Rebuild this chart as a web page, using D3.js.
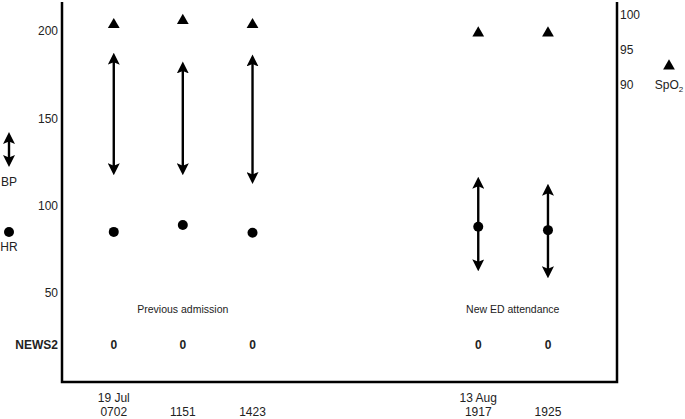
<!DOCTYPE html>
<html>
<head>
<meta charset="utf-8">
<script src="https://cdn.jsdelivr.net/npm/d3@7"></script>
<style>
body { margin: 0; background: #fff; }
text { font-family: "Liberation Sans", Arial, sans-serif; fill: #222; }
</style>
</head>
<body>
<svg width="685" height="419"></svg>
<script>
// observation times (slot = position along the x axis, with a gap between visits)
var dates = ["19 Jul", "", "", "13 Aug", ""];
var times = ["0702", "1151", "1423", "1917", "1925"];
var slots = [0.75, 1.75, 2.76, 6.03, 7.04];

var bpSys = [187, 182, 186, 116, 112];
var bpDia = [118, 118, 113, 63, 59];
var hr = [85, 89, 84.5, 88, 86];
var spo2 = [98.6, 99.2, 98.6, 97.4, 97.4];
var news2 = [0, 0, 0, 0, 0];

var leftTicks = [50, 100, 150, 200];
var rightTicks = [90, 95, 100];
var groups = [
  { label: "Previous admission", slot: 1.75 },
  { label: "New ED attendance", slot: 6.53 }
];

var svg = d3.select("svg");
var plotL = 62, plotR = 617, plotT = 2, plotB = 382;

var x = d3.scaleLinear().domain([0, 8.04]).range([plotL, plotR]);
var y = d3.scaleLinear().domain([0, 200]).range([380.4, 31]);
var y2 = d3.scaleLinear().domain([90, 100]).range([84.3, 15]);

// frame: left, bottom, right
svg.append("path")
  .attr("d", "M" + plotL + "," + plotT + "V" + plotB + "H" + plotR + "V" + plotT)
  .attr("fill", "none")
  .attr("stroke", "#000")
  .attr("stroke-width", 2.5);

// left axis labels
svg.append("g").selectAll("text")
  .data(leftTicks).enter().append("text")
  .attr("x", plotL - 4)
  .attr("y", function (d) { return y(d); })
  .attr("dy", "0.35em")
  .attr("text-anchor", "end")
  .attr("font-size", 12)
  .text(function (d) { return d; });

// right axis labels
svg.append("g").selectAll("text")
  .data(rightTicks).enter().append("text")
  .attr("x", plotR + 3)
  .attr("y", function (d) { return y2(d); })
  .attr("dy", "0.35em")
  .attr("font-size", 12)
  .text(function (d) { return d; });

// arrowhead marker
var defs = svg.append("defs");
["start", "end"].forEach(function (k) {
  defs.append("marker")
    .attr("id", "ah-" + k)
    .attr("viewBox", "0 0 10 10")
    .attr("refX", 5).attr("refY", 5)
    .attr("markerWidth", 5).attr("markerHeight", 5)
    .attr("markerUnits", "strokeWidth")
    .attr("orient", k === "start" ? "auto-start-reverse" : "auto")
    .append("path")
    .attr("d", "M0,0L10,5L0,10L2,5Z")
    .attr("fill", "#000");
});

function arrow(g, x0, yTop, yBot) {
  g.append("line")
    .attr("x1", x0).attr("x2", x0)
    .attr("y1", yBot - 5).attr("y2", yTop + 5)
    .attr("stroke", "#000")
    .attr("stroke-width", 2.4)
    .attr("marker-start", "url(#ah-start)")
    .attr("marker-end", "url(#ah-end)");
}

var tri = d3.symbol().type(d3.symbolTriangle).size(60);

var obs = d3.range(times.length);
var g = svg.append("g");

// BP arrows
obs.forEach(function (i) { arrow(g, x(slots[i]), y(bpSys[i]), y(bpDia[i])); });

// HR dots
g.selectAll(".hr").data(obs).enter().append("circle")
  .attr("cx", function (i) { return x(slots[i]); })
  .attr("cy", function (i) { return y(hr[i]); })
  .attr("r", 5)
  .attr("fill", "#000");

// SpO2 triangles
g.selectAll(".spo2").data(obs).enter().append("path")
  .attr("d", tri)
  .attr("transform", function (i) { return "translate(" + x(slots[i]) + "," + y2(spo2[i]) + ")"; })
  .attr("fill", "#000");

// group labels
svg.selectAll(".grp").data(groups).enter().append("text")
  .attr("x", function (d) { return x(d.slot); })
  .attr("y", 313)
  .attr("text-anchor", "middle")
  .attr("font-size", 10.5)
  .text(function (d) { return d.label; });

// NEWS2 row
svg.append("text")
  .attr("x", plotL - 4).attr("y", 349)
  .attr("text-anchor", "end")
  .attr("font-size", 12).attr("font-weight", "bold")
  .text("NEWS2");
svg.selectAll(".news").data(obs).enter().append("text")
  .attr("x", function (i) { return x(slots[i]); })
  .attr("y", 349)
  .attr("text-anchor", "middle")
  .attr("font-size", 12).attr("font-weight", "bold")
  .text(function (i) { return news2[i]; });

// x labels
svg.selectAll(".dt").data(obs).enter().append("text")
  .attr("x", function (i) { return x(slots[i]); })
  .attr("y", 402)
  .attr("text-anchor", "middle")
  .attr("font-size", 12)
  .text(function (i) { return dates[i]; });
svg.selectAll(".tm").data(obs).enter().append("text")
  .attr("x", function (i) { return x(slots[i]); })
  .attr("y", 416)
  .attr("text-anchor", "middle")
  .attr("font-size", 12)
  .text(function (i) { return times[i]; });

// legend: BP, HR on left, SpO2 on right
var lg = svg.append("g");
arrow(lg, 9, 133, 166);
lg.append("text").attr("x", 9).attr("y", 186).attr("text-anchor", "middle")
  .attr("font-size", 12).text("BP");
lg.append("circle").attr("cx", 9).attr("cy", 232).attr("r", 5).attr("fill", "#000");
lg.append("text").attr("x", 9).attr("y", 251).attr("text-anchor", "middle")
  .attr("font-size", 12).text("HR");
lg.append("path").attr("d", tri).attr("transform", "translate(669,66)").attr("fill", "#000");
var sp = lg.append("text").attr("x", 669).attr("y", 89).attr("text-anchor", "middle")
  .attr("font-size", 12);
sp.append("tspan").text("SpO");
sp.append("tspan").attr("font-size", 8).attr("dy", 3).text("2");
</script>
</body>
</html>
